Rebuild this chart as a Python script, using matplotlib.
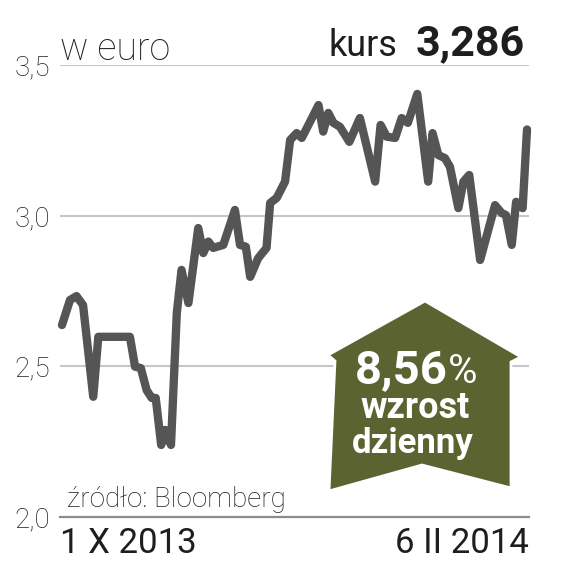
import matplotlib
matplotlib.use("Agg")
import matplotlib.pyplot as plt
from matplotlib.patches import Polygon
import matplotlib.patheffects as pe

# ---- data ----
days = [0, 2.2, 4.0, 5.8, 8.6, 10.0, 18.7, 20.1, 21.7, 23.3, 24.7, 25.8, 27.3, 28.4,
        30.0, 31.6, 32.9, 34.8, 37.5, 38.9, 40.3, 41.6, 44.4, 47.6, 49.0, 50.6, 51.8,
        54.0, 56.3, 57.3, 59.1, 61.4, 62.8, 64.6, 66.0, 68.3, 70.6, 71.9, 73.3, 74.7,
        76.5, 79.1, 82.0, 86.2, 87.7, 89.4, 91.7, 93.5, 95.2, 97.8, 100.8, 102.0, 103.6,
        105.4, 106.8, 109.1, 110.5, 112.1, 115.1, 119.2, 121.0, 122.2, 123.8, 125.0,
        126.8, 128.0]
price = [2.637, 2.720, 2.733, 2.703, 2.399, 2.598, 2.598, 2.499, 2.494, 2.421, 2.395,
         2.395, 2.239, 2.289, 2.239, 2.677, 2.820, 2.710, 2.959, 2.876, 2.914, 2.893,
         2.903, 3.019, 2.903, 2.897, 2.797, 2.859, 2.893, 3.042, 3.059, 3.113, 3.251,
         3.274, 3.258, 3.312, 3.367, 3.279, 3.341, 3.308, 3.295, 3.245, 3.324, 3.113,
         3.301, 3.262, 3.258, 3.324, 3.308, 3.404, 3.113, 3.274, 3.201, 3.191, 3.162,
         3.025, 3.113, 3.135, 2.853, 3.035, 3.009, 3.002, 2.903, 3.046, 3.025, 3.286]
y_ticks = [2.0, 2.5, 3.0, 3.5]
y_tick_labels = ["2,0", "2,5", "3,0", "3,5"]
x_labels = ["1 X 2013", "6 II 2014"]
unit_label = "w euro"
rate_word = "kurs"
rate_value = "3,286"
change_value = "8,56"
change_lines = ["wzrost", "dzienny"]
source = "źródło: Bloomberg"

W, H = 570, 568
fig = plt.figure(figsize=(W / 100, H / 100), dpi=100)
fig.patch.set_facecolor("white")

def fx(px):
    return px / W

def fy(py):
    return 1 - py / H

ax = fig.add_axes([fx(60), fy(517), fx(529) - fx(60), fy(65) - fy(517)])
ax.set_xlim(-0.55, 128.55)
ax.set_ylim(2.0, 3.5)
for s in ax.spines.values():
    s.set_visible(False)
ax.set_xticks([])
ax.set_yticks(y_ticks)
ax.set_yticklabels(y_tick_labels, family=["Roboto", "DejaVu Sans"], fontweight="light",
                   fontsize=20, color="#1e1e1e")
ax.tick_params(axis="y", length=0, pad=7)

for v in y_ticks[1:]:
    ax.axhline(v, color="#c6c6c6", lw=1.5, zorder=1)
ax.axhline(y_ticks[0], color="#8c8c8c", lw=1.6, zorder=1, clip_on=False)

ax.plot(days, price, color="#555555", lw=6.0, solid_capstyle="round",
        solid_joinstyle="round", zorder=3, clip_on=False)

light = dict(family=["Roboto", "DejaVu Sans"], fontweight="light", color="#1e1e1e")
reg = dict(family=["Roboto", "DejaVu Sans"], fontweight="normal", color="#1e1e1e")
bold = dict(family=["Roboto", "DejaVu Sans"], fontweight="bold", color="#1e1e1e")

fig.text(fx(60), fy(60), unit_label, fontsize=27, ha="left", va="baseline", **light)
fig.text(fx(397), fy(56), rate_word, fontsize=26, ha="right", va="baseline", **reg)
fig.text(fx(525), fy(55), rate_value, fontsize=31, ha="right", va="baseline", **bold)
fig.text(fx(67), fy(507), source, fontsize=20, ha="left", va="baseline", **light)
fig.text(fx(60), fy(553), x_labels[0], fontsize=25, ha="left", va="baseline", **reg)
fig.text(fx(529), fy(553), x_labels[1], fontsize=25, ha="right", va="baseline", **reg)

# badge (up arrow)
verts_px = [(425, 301), (521, 357), (511, 362), (511, 488), (422, 465),
            (329, 491), (335, 361), (328, 355)]
verts = [(fx(x), fy(y)) for x, y in verts_px]
badge = Polygon(verts, closed=True, transform=fig.transFigure, facecolor="#5b6331",
                edgecolor="white", lw=2, zorder=5, joinstyle="miter")
badge.set_path_effects([pe.SimplePatchShadow(offset=(0, 0), shadow_rgbFace="#666666",
                                             alpha=0.7), pe.Normal()])
fig.add_artist(badge)

wbold = dict(family=["Roboto", "DejaVu Sans"], fontweight="bold", color="white", zorder=6)
fig.text(fx(448), fy(383), change_value, fontsize=34, ha="right", va="baseline", **wbold)
fig.text(fx(448), fy(383), "%", fontsize=29, ha="left", va="baseline",
         family=["Roboto", "DejaVu Sans"], fontweight="normal", color="white", zorder=6)
fig.text(fx(415), fy(418), change_lines[0], fontsize=26, ha="center", va="baseline", **wbold)
fig.text(fx(413), fy(453), change_lines[1], fontsize=25, ha="center", va="baseline", **wbold)

fig.savefig("out.png", dpi=100, facecolor="white")
